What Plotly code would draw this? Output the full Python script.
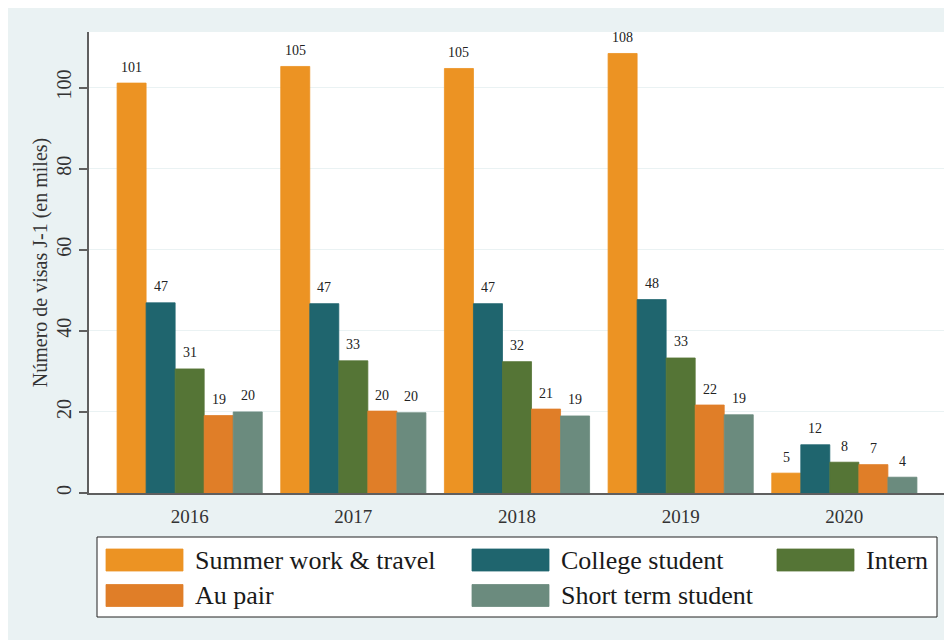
import plotly.graph_objects as go

years = ["2016", "2017", "2018", "2019", "2020"]
series_names = ["Summer work & travel", "College student", "Intern", "Au pair", "Short term student"]
summer_work_travel = [101.1, 105.2, 104.7, 108.4, 4.9]
college_student = [46.9, 46.7, 46.7, 47.7, 11.9]
intern = [30.6, 32.6, 32.4, 33.3, 7.6]
au_pair = [19.1, 20.2, 20.7, 21.7, 7.0]
short_term_student = [20.0, 19.8, 19.0, 19.3, 3.9]
values = [summer_work_travel, college_student, intern, au_pair, short_term_student]
colors = ["#EC9323", "#1F656E", "#557536", "#E07E28", "#6B8B7E"]
y_tick_vals = [0, 20, 40, 60, 80, 100]

FONT = "Liberation Serif"
BG = "#EAF2F3"
bargap = 0.113
n = len(series_names)
x_idx = list(range(len(years)))

fig = go.Figure()
annotations = []
bw = (1 - bargap) / n
for j, (name, vals, col) in enumerate(zip(series_names, values, colors)):
    fig.add_trace(go.Bar(
        x=x_idx, y=vals, name=name, marker_color=col,
        marker_line_color=col, marker_line_width=0.8,
        showlegend=False, hoverinfo="x+y+name"))
    for i, v in zip(x_idx, vals):
        annotations.append(dict(
            x=i - (1 - bargap) / 2 + (j + 0.5) * bw, y=v, xref="x", yref="y",
            text=f"{v:.0f}", showarrow=False, yanchor="middle", yshift=16,
            font=dict(family=FONT, size=14, color="#222222")))

# plot area in screen px: x 89..945, y 32..493
def px(xp):
    return (xp - 89) / 856
def py(yp):
    return (493 - yp) / 461

shapes = []
shapes.append(dict(type="rect", xref="paper", yref="paper",
                   x0=px(97), x1=px(937), y0=py(617), y1=py(537),
                   fillcolor="white", line=dict(color="#222222", width=1)))
leg_pos = [(106, 560), (472, 560), (777, 560), (106, 595.5), (472, 595.5)]
for (lx, ly), name, col in zip(leg_pos, series_names, colors):
    shapes.append(dict(type="rect", xref="paper", yref="paper",
                       x0=px(lx), x1=px(lx + 77), y0=py(ly + 11), y1=py(ly - 11),
                       fillcolor=col, line=dict(color=col, width=0.8)))
    annotations.append(dict(x=px(lx + 87), y=py(ly), xref="paper", yref="paper",
                            text=name, showarrow=False, xanchor="left", yanchor="middle",
                            font=dict(family=FONT, size=26, color="#1a1a1a")))

fig.update_layout(
    width=952, height=640,
    margin=dict(l=81, r=15, t=24, b=155),
    paper_bgcolor=BG, plot_bgcolor="white",
    barmode="group", bargap=bargap, bargroupgap=0,
    font=dict(family=FONT, color="#222222"),
    shapes=shapes, annotations=annotations,
    xaxis=dict(range=[-0.615, 4.615], tickvals=x_idx, ticktext=years,
               showline=True, linecolor="#5f5f5f", linewidth=1.5,
               ticks="", showgrid=False, zeroline=False,
               tickfont=dict(family=FONT, size=19, color="#333333"),
               ticklabelstandoff=5),
    yaxis=dict(range=[0, 113.7], tickvals=y_tick_vals,
               showline=True, linecolor="#5f5f5f", linewidth=1.5,
               ticks="outside", ticklen=8, tickcolor="#5f5f5f", tickwidth=1.5,
               tickangle=-90, showgrid=True, gridcolor="#EAF2F3", gridwidth=1,
               zeroline=False,
               tickfont=dict(family=FONT, size=20, color="#333333"),
               title=dict(text="Número de visas J-1 (en miles)", standoff=0,
                          font=dict(family=FONT, size=20, color="#333333"))),
)

fig.write_html("out.html")
